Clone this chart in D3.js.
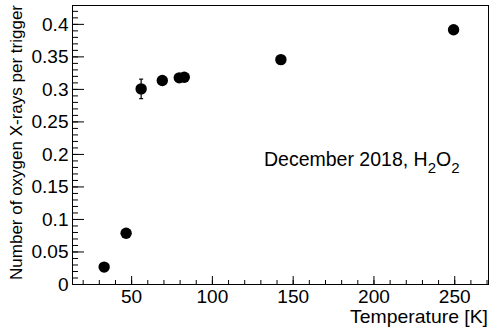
<!DOCTYPE html>
<html>
<head>
<meta charset="utf-8">
<script src="https://cdn.jsdelivr.net/npm/d3@7"></script>
<style>
  html, body { margin: 0; padding: 0; background: #fff; }
  svg { display: block; }
  text { font-family: "Liberation Sans", Arial, sans-serif; fill: #000; }
</style>
</head>
<body>
<div id="chart"></div>
<script>
// --- data ---
const temps  = [33.3, 46.9, 56.2, 69.3, 79.8, 82.9, 142.7, 249.6];
const yields = [0.026, 0.078, 0.300, 0.313, 0.317, 0.318, 0.345, 0.391];
const errors = [0.003, 0.003, 0.015, 0.004, 0.004, 0.004, 0.004, 0.004];

const xTicks = [50, 100, 150, 200, 250];
const yTicks = [0, 0.05, 0.1, 0.15, 0.2, 0.25, 0.3, 0.35, 0.4];

const xTitle = 'Temperature [K]';
const yTitle = 'Number of oxygen X-rays per trigger';

// --- frame ---
const W = 490, H = 332;
const padL = 72, padR = 488, padT = 5, padB = 284;

const x = d3.scaleLinear().domain([13.4, 270.9]).range([padL, padR]);
const y = d3.scaleLinear().domain([0, 0.429]).range([padB, padT]);

const svg = d3.select('#chart').append('svg')
  .attr('width', W).attr('height', H);

const pts = temps.map((t, i) => ({t, v: yields[i], e: errors[i]}));

// frame box
svg.append('rect')
  .attr('x', padL + 0.5).attr('y', padT + 0.5)
  .attr('width', padR - padL).attr('height', padB - padT)
  .attr('fill', 'none').attr('stroke', '#000').attr('stroke-width', 1);

const stretch = 1.06; // ROOT font renders a bit wider than Arial
const tickFont = 18;

// minor ticks (no labels)
svg.append('g')
  .attr('transform', `translate(0,${padB})`)
  .call(d3.axisBottom(x).tickValues(d3.range(20, 271, 10)).tickSize(-4).tickFormat(''))
  .call(g => g.select('.domain').remove());
svg.append('g')
  .attr('transform', `translate(${padL},0)`)
  .call(d3.axisLeft(y).tickValues(d3.range(0, 0.4291, 0.01)).tickSize(-6).tickFormat(''))
  .call(g => g.select('.domain').remove());

// major ticks
svg.append('g')
  .attr('transform', `translate(0,${padB})`)
  .call(d3.axisBottom(x).tickValues(xTicks).tickSize(-8).tickPadding(6))
  .call(g => g.select('.domain').remove())
  .call(g => g.selectAll('text')
    .attr('font-size', tickFont)
    .attr('transform', `scale(${stretch},1)`));

svg.append('g')
  .attr('transform', `translate(${padL},0)`)
  .call(d3.axisLeft(y).tickValues(yTicks).tickSize(-12).tickPadding(3.5)
    .tickFormat(d => String(+d.toFixed(2))))
  .call(g => g.select('.domain').remove())
  .call(g => g.selectAll('text')
    .attr('font-size', tickFont)
    .attr('x', -3.5 / stretch)
    .attr('dy', '0.36em')
    .attr('transform', `scale(${stretch},1)`));

svg.selectAll('.tick line').attr('stroke', '#000');

// axis titles
svg.append('text')
  .attr('transform', `translate(${padR},322.5) scale(${stretch},1)`)
  .attr('text-anchor', 'end')
  .attr('font-size', 18.3)
  .text(xTitle);

svg.append('text')
  .attr('transform', `translate(22,${padT}) rotate(-90)`)
  .attr('text-anchor', 'end')
  .attr('font-size', 17)
  .text(yTitle);

// error bars
const eb = svg.append('g').attr('stroke', '#000').attr('stroke-width', 1.2);
eb.selectAll('line.v').data(pts).join('line').attr('class', 'v')
  .attr('x1', d => x(d.t)).attr('x2', d => x(d.t))
  .attr('y1', d => y(d.v - d.e)).attr('y2', d => y(d.v + d.e));
eb.selectAll('line.lo').data(pts).join('line').attr('class', 'lo')
  .attr('x1', d => x(d.t) - 2).attr('x2', d => x(d.t) + 2)
  .attr('y1', d => y(d.v - d.e)).attr('y2', d => y(d.v - d.e));
eb.selectAll('line.hi').data(pts).join('line').attr('class', 'hi')
  .attr('x1', d => x(d.t) - 2).attr('x2', d => x(d.t) + 2)
  .attr('y1', d => y(d.v + d.e)).attr('y2', d => y(d.v + d.e));

// markers
svg.append('g').selectAll('circle').data(pts).join('circle')
  .attr('cx', d => x(d.t)).attr('cy', d => y(d.v))
  .attr('r', 5.7).attr('fill', '#000');

// label
const lab = svg.append('text')
  .attr('x', 264).attr('y', 165.5)
  .attr('font-size', 19.5);
lab.append('tspan').text('December 2018, H');
lab.append('tspan').attr('font-size', 15).attr('dy', 7).text('2');
lab.append('tspan').attr('dy', -7).text('O');
lab.append('tspan').attr('font-size', 15).attr('dy', 7).text('2');
</script>
</body>
</html>
